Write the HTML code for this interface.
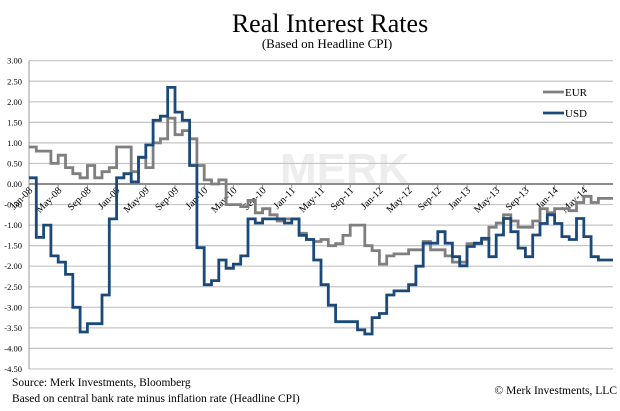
<!DOCTYPE html>
<html><head><meta charset="utf-8"><style>
html,body{margin:0;padding:0;background:#fff}
svg{display:block;font-family:"Liberation Serif",serif}
</style></head><body>
<svg width="620" height="411" viewBox="0 0 620 411" xmlns="http://www.w3.org/2000/svg">
<text x="330" y="32" font-size="26" text-anchor="middle" fill="#000">Real Interest Rates</text>
<text x="327" y="48" font-size="13" text-anchor="middle" fill="#000">(Based on Headline CPI)</text>
<text x="280" y="184" font-family="Liberation Sans, sans-serif" font-weight="bold" font-size="44" fill="#ededed">MERK</text>
<g id="grid"></g>
<g id="yaxis"></g>
<g id="xaxis"></g>
<g id="series"></g>
<g>
<line x1="543" y1="92" x2="564" y2="92" stroke="#7f7f7f" stroke-width="2.8"/>
<text x="565" y="96" font-size="11">EUR</text>
<line x1="543" y1="113" x2="564" y2="113" stroke="#1b4a7a" stroke-width="2.8"/>
<text x="565" y="117" font-size="11">USD</text>
</g>
<text x="12" y="386" font-size="11.5">Source: Merk Investments, Bloomberg</text>
<text x="12" y="402" font-size="11.5">Based on central bank rate minus inflation rate (Headline CPI)</text>
<text x="617" y="394" font-size="11.5" text-anchor="end">© Merk Investments, LLC</text>
</svg>
<script>
const yTicks=[3,2.5,2,1.5,1,0.5,0,-0.5,-1,-1.5,-2,-2.5,-3,-3.5,-4,-4.5];
const xTickLabels=["Jan-08","May-08","Sep-08","Jan-09","May-09","Sep-09","Jan-10","May-10","Sep-10","Jan-11","May-11","Sep-11","Jan-12","May-12","Sep-12","Jan-13","May-13","Sep-13","Jan-14","May-14"];
const eurValues=[0.9,0.8,0.8,0.5,0.7,0.4,0.25,0.15,0.45,0.15,0.3,0.4,0.9,0.9,0.3,0.65,0.4,1.0,1.1,1.6,1.2,1.3,1.1,0.45,0.1,0.0,0.1,-0.5,-0.5,-0.55,-0.4,-0.7,-0.6,-0.75,-0.9,-0.85,-0.85,-1.2,-1.35,-1.4,-1.35,-1.5,-1.45,-1.25,-1.0,-1.0,-1.5,-1.62,-1.95,-1.75,-1.7,-1.7,-1.6,-1.6,-1.4,-1.6,-1.6,-1.75,-1.9,-1.9,-1.45,-1.45,-1.35,-1.05,-0.95,-0.75,-0.9,-1.05,-1.05,-0.9,-0.6,-0.7,-0.6,-0.6,-0.65,-0.45,-0.3,-0.45,-0.35,-0.35];
const usdValues=[0.15,-1.3,-1.0,-1.75,-1.9,-2.2,-3.0,-3.6,-3.4,-3.4,-2.7,-0.85,0.15,0.25,0.05,0.65,0.95,1.55,1.65,2.35,1.75,1.55,0.45,-1.55,-2.45,-2.35,-1.85,-2.05,-1.95,-1.75,-0.85,-0.95,-0.85,-0.85,-0.85,-0.95,-0.85,-1.25,-1.35,-1.85,-2.45,-2.95,-3.35,-3.35,-3.35,-3.55,-3.65,-3.25,-3.15,-2.7,-2.6,-2.6,-2.45,-2.0,-1.44,-1.44,-1.16,-1.44,-1.77,-1.99,-1.52,-1.44,-1.32,-1.77,-1.24,-0.84,-1.16,-1.56,-1.77,-1.24,-0.96,-0.75,-0.96,-1.28,-1.35,-0.84,-1.28,-1.77,-1.85,-1.85];
const NS="http://www.w3.org/2000/svg";
const X0=29,X1=613,Y0=184,PU=41.1,MW=(X1-X0)/80;
const y=v=>Y0-v*PU, x=m=>X0+m*MW;
function mk(tag,parent){const e=document.createElementNS(NS,tag);parent.appendChild(e);return e;}
const grid=document.getElementById('grid'),ya=document.getElementById('yaxis'),xa=document.getElementById('xaxis'),se=document.getElementById('series');
yTicks.forEach(v=>{
 if(v!==0){const l=mk('line',grid);
 
 
 l.setAttribute('x1',X0);l.setAttribute('x2',X1);l.setAttribute('y1',y(v));l.setAttribute('y2',y(v));l.setAttribute('stroke','#c4c4c4');l.setAttribute('stroke-width','1.2');}
 const t=mk('text',ya);
 
 
 t.setAttribute('x',22);t.setAttribute('y',y(v)+3);t.setAttribute('font-size','8.5');t.setAttribute('text-anchor','end');
 t.textContent=v.toFixed(2);
});
const ax=mk('line',ya);


ax.setAttribute('x1',X0);ax.setAttribute('x2',X0);ax.setAttribute('y1',y(3));ax.setAttribute('y2',y(-4.5));ax.setAttribute('stroke','#999');
const z=mk('line',xa);


z.setAttribute('x1',X0);z.setAttribute('x2',X1);z.setAttribute('y1',Y0);z.setAttribute('y2',Y0);z.setAttribute('stroke','#8c8c8c');z.setAttribute('stroke-width','2');
xTickLabels.forEach((s,i)=>{
 const xx=x(i*4);
 const tk=mk('line',xa);
 
 
 tk.setAttribute('x1',xx);tk.setAttribute('x2',xx);tk.setAttribute('y1',Y0);tk.setAttribute('y2',Y0+4);tk.setAttribute('stroke','#8c8c8c');
 const t=mk('text',xa);
 
 
 t.setAttribute('font-size','10');t.setAttribute('text-anchor','end');
 t.setAttribute('transform',`translate(${xx+4},${Y0+7}) rotate(-45)`);
 t.textContent=s;
});
function step(vals){let d='';vals.forEach((v,i)=>{d+=(i?'L':'M')+x(i).toFixed(1)+','+y(v).toFixed(1)+'L'+x(i+1).toFixed(1)+','+y(v).toFixed(1);});return d;}
const pe=mk('path',se);


pe.setAttribute('d',step(eurValues));pe.setAttribute('fill','none');pe.setAttribute('stroke','#7f7f7f');pe.setAttribute('stroke-width','2.8');
const pu=mk('path',se);


pu.setAttribute('d',step(usdValues));pu.setAttribute('fill','none');pu.setAttribute('stroke','#1b4a7a');pu.setAttribute('stroke-width','2.8');
</script>
</body></html>
